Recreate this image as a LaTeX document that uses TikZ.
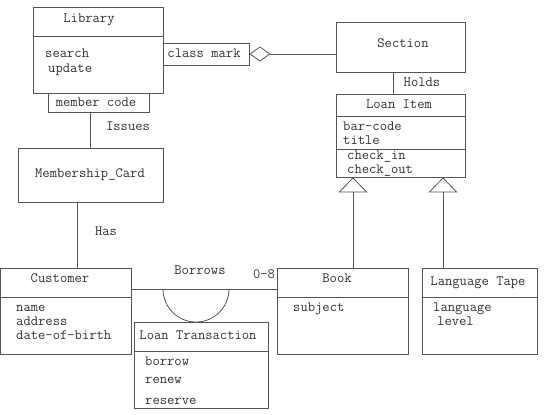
\documentclass[tikz,border=0pt]{standalone}
\usepackage{fontspec}
\usetikzlibrary{arrows.meta, calc}
\definecolor{mylinegray}{RGB}{85, 85, 85}
\definecolor{mytextgray}{RGB}{50, 50, 50}

\tikzset{
  umlbox/.style={draw=mylinegray, line width=0.8bp, inner sep=0pt},
  umltext/.style={font=\ttfamily\fontsize{14.2bp}{16bp}\selectfont, text=mytextgray,
    inner sep=0pt, text height=1.2ex, text depth=0.2ex, yshift=-1.5bp},
  assoc/.style={draw=mylinegray, line width=0.8bp},
}

\begin{document}
\begin{tikzpicture}[x=1bp, y=-1bp]
  \useasboundingbox (0,0) rectangle (549,414);
  % Class boxes
  \node[umlbox, minimum width=130bp, minimum height=86bp] (library) at (98,50) {};
  \node[umlbox, minimum width=86bp, minimum height=22bp] (classmark) at (206,54) {};
  \node[umlbox, minimum width=101bp, minimum height=19bp] (membercode) at (98.5,102.5) {};
  \node[umlbox, minimum width=145bp, minimum height=54bp] (card) at (90.5,175) {};
  \node[umlbox, minimum width=129bp, minimum height=50bp] (section) at (400.5,47) {};
  \node[umlbox, minimum width=129bp, minimum height=83bp] (loanitem) at (400.5,135.5) {};
  \node[umlbox, minimum width=130.5bp, minimum height=86bp] (customer) at (65.75,311) {};
  \node[umlbox, minimum width=131bp, minimum height=86bp] (book) at (342.5,311) {};
  \node[umlbox, minimum width=115bp, minimum height=86bp] (tape) at (479.5,311) {};
  \node[umlbox, minimum width=134bp, minimum height=86bp] (transaction) at (201,365) {};
  % Compartment lines
  \draw[assoc] (library.west |- 0,36) -- (library.east |- 0,36);
  \draw[assoc] (loanitem.west |- 0,116) -- (loanitem.east |- 0,116);
  \draw[assoc] (loanitem.west |- 0,149) -- (loanitem.east |- 0,149);
  \draw[assoc] (customer.west |- 0,297) -- (customer.east |- 0,297);
  \draw[assoc] (book.west |- 0,297) -- (book.east |- 0,297);
  \draw[assoc] (tape.west |- 0,297) -- (tape.east |- 0,297);
  \draw[assoc] (transaction.west |- 0,351) -- (transaction.east |- 0,351);
  % Class names
  \node[umltext] (libname) at (89,19) {Library};
  \node[umltext] (cmname) at (204,54) {class mark};
  \node[umltext] (mcname) at (96,103) {member code};
  \node[umltext] (cardname) at (90,174) {Membership\_Card};
  \node[umltext] (secname) at (403,44) {Section};
  \node[umltext] (itemname) at (399,105) {Loan Item};
  \node[umltext] (custname) at (60,279) {Customer};
  \node[umltext] (bookname) at (337,279) {Book};
  \node[umltext] (tapename) at (478,282) {Language Tape};
  \node[umltext] (transname) at (198,336) {Loan Transaction};
  % Attributes and operations
  \node[umltext, anchor=west] (libop1) at (45,54) {search};
  \node[umltext, anchor=west] (libop2) at (48,69) {update};
  \node[umltext, anchor=west] (itemattr1) at (343,127) {bar-code};
  \node[umltext, anchor=west] (itemattr2) at (343,141) {title};
  \node[umltext, anchor=west] (itemop1) at (347,156) {check\_in};
  \node[umltext, anchor=west] (itemop2) at (347,170) {check\_out};
  \foreach \txt [count=\i] in {name, address, date-of-birth} {
    \node[umltext, anchor=west] (custattr\i) at (16,294+14*\i) {\txt};
  }
  \node[umltext, anchor=west] (bookattr) at (293,308) {subject};
  \node[umltext, anchor=west] (tapeattr1) at (433,308) {language};
  \node[umltext, anchor=west] (tapeattr2) at (437,322) {level};
  \node[umltext, anchor=west] (transop1) at (145,362) {borrow};
  \node[umltext, anchor=west] (transop2) at (145,380) {renew};
  \node[umltext, anchor=west] (transop3) at (145,401) {reserve};
  % Associations
  \draw[assoc, -{Diamond[open, length=21bp, width=15bp]}] (section.west |- classmark.east) -- (classmark.east);
  \draw[assoc] (card.north) -- (card.north |- membercode.south);
  \draw[assoc] ([xshift=11.5bp]customer.north) -- ([xshift=11.5bp]customer.north |- card.south);
  \draw[assoc] ([xshift=-7.5bp]section.south) -- ([xshift=-7.5bp]loanitem.north);
  \draw[assoc] ([yshift=22bp]customer.east) -- ([yshift=22bp]book.west);
  \coordinate (arcstart) at (163,289);
  \draw[assoc] (arcstart) arc[start angle=180, end angle=360, radius=33bp];
  % Generalisations
  \draw[assoc, -{Triangle[open, length=15bp, width=29bp]}] ([xshift=10.5bp]book.north) -- ([xshift=10.5bp]book.north |- loanitem.south);
  \draw[assoc, -{Triangle[open, length=15bp, width=29bp]}] ([xshift=-36.5bp]tape.north) -- ([xshift=-36.5bp]tape.north |- loanitem.south);
  % Labels
  \node[umltext] (issues) at (128,127) {Issues};
  \node[umltext] (has) at (106,232) {Has};
  \node[umltext] (borrows) at (200,271) {Borrows};
  \node[umltext] (mult) at (264,275) {0-8};
  \node[umltext] (holds) at (422,83) {Holds};
\end{tikzpicture}
\end{document}
